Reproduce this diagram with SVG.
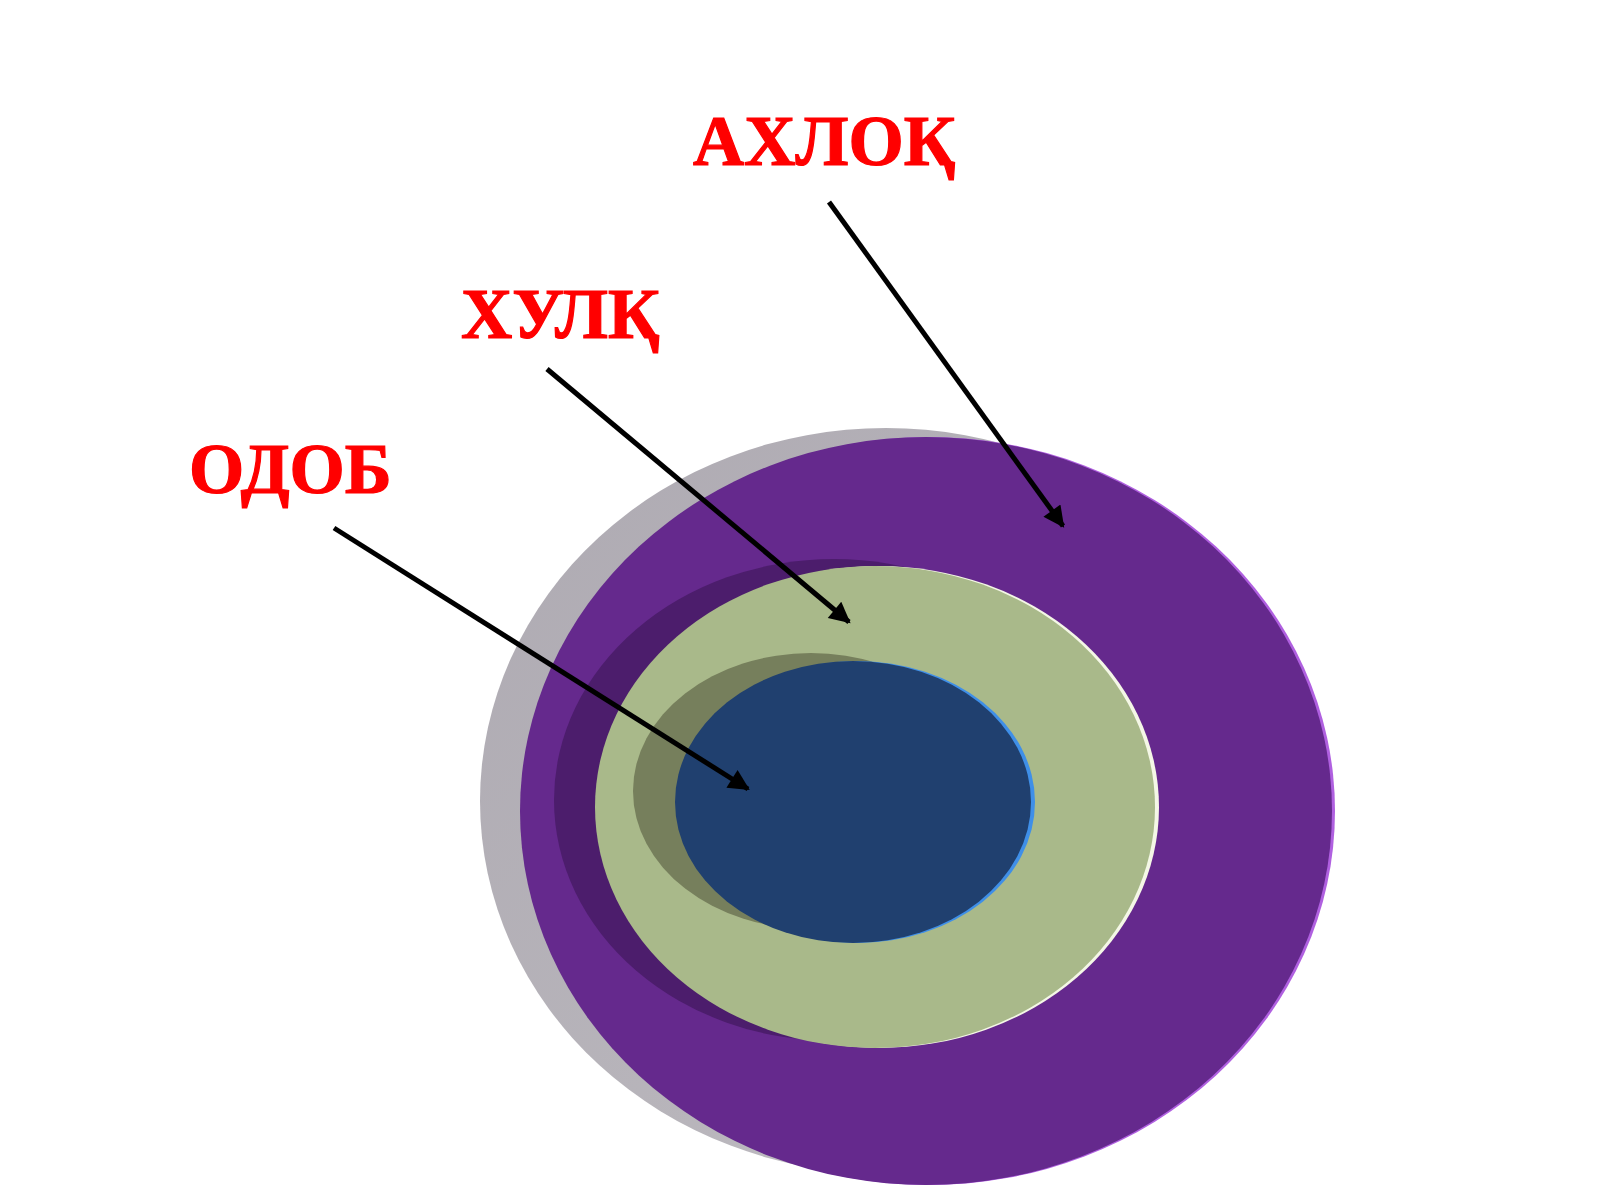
<svg xmlns="http://www.w3.org/2000/svg" width="1600" height="1200" viewBox="0 0 1600 1200">
  <style>
    .lbl { font-family: "Liberation Serif", "Times New Roman", serif; font-weight: bold; font-size: 71px; fill: #ff0000; stroke: #ff0000; stroke-width: 1.2; }
    .arrow { stroke: #000000; stroke-width: 5; fill: none; marker-end: url(#head); }
  </style>
  <defs>
    <marker id="head" viewBox="0 0 10 10" refX="9" refY="5" markerWidth="4.6" markerHeight="4.2" orient="auto" markerUnits="strokeWidth">
      <path d="M0,0 L10,5 L0,10 Z" fill="#000000"/>
    </marker>
    <linearGradient id="grayShade" x1="0" y1="0" x2="1" y2="1">
      <stop offset="0" stop-color="#aeaab2"/>
      <stop offset="0.6" stop-color="#b8b5bb"/>
      <stop offset="1" stop-color="#cfccd2"/>
    </linearGradient>
  </defs>
  <rect width="1600" height="1200" fill="#ffffff"/>

  <g id="node-akhloq">
    <ellipse cx="886" cy="801" rx="406" ry="373" fill="url(#grayShade)"/>
    <ellipse cx="929" cy="811" rx="406" ry="374" fill="#b060e0"/>
    <ellipse cx="926" cy="811" rx="406" ry="374" fill="#65298d"/>
  </g>

  <g id="node-khulq">
    <ellipse cx="834" cy="800" rx="280" ry="241" fill="#4c1d6c"/>
    <ellipse cx="879" cy="807" rx="280" ry="241" fill="#f4f7e6"/>
    <ellipse cx="875" cy="807" rx="280" ry="241" fill="#a9b98a"/>
  </g>

  <g id="node-odob">
    <ellipse cx="811" cy="791" rx="178" ry="138" fill="#767f5c"/>
    <ellipse cx="857" cy="802" rx="178" ry="141" fill="#3f8fe8"/>
    <ellipse cx="853" cy="802" rx="178" ry="141" fill="#20406f"/>
  </g>

  <g id="labels">
    <text class="lbl" x="693" y="165">АХЛОҚ</text>
    <text class="lbl" x="461" y="338">ХУЛҚ</text>
    <text class="lbl" x="189" y="493">ОДОБ</text>
  </g>

  <g id="connectors">
    <line class="arrow" x1="829" y1="202" x2="1063" y2="526"/>
    <line class="arrow" x1="547" y1="369" x2="849" y2="622"/>
    <line class="arrow" x1="334" y1="528" x2="748" y2="789"/>
  </g>
</svg>
